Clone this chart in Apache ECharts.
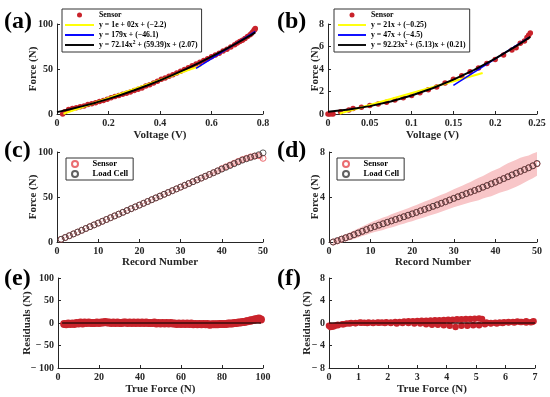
<!DOCTYPE html>
<html><head><meta charset="utf-8">
<script src="https://cdn.jsdelivr.net/npm/echarts@6/dist/echarts.min.js"></script>
<style>html,body{margin:0;padding:0;background:#fff}#c{width:550px;height:397px}</style>
</head><body><div id="c"></div>
<script>
// ---------- (a) ----------
var aVolt = [0.022,0.03,0.045,0.06,0.075,0.09,0.105,0.12,0.135,0.15,0.165,0.18,0.195,0.21,0.225,0.24,0.255,0.27,0.285,0.30,0.315,0.33,0.345,0.36,0.375,0.39,0.405,0.42,0.435,0.45,0.465,0.48,0.495,0.51,0.525,0.54,0.555,0.57,0.585,0.60,0.615,0.63,0.645,0.66,0.675,0.69,0.70,0.71,0.72,0.73,0.74,0.75,0.755,0.76,0.765,0.768,0.77];
var aForce = [0,2.5,5,6,7,8,9,10.5,11.5,12.5,14,15,16.5,18,19.5,20.5,22,23,24.5,26,27.5,29,31,32.5,34.5,36.5,38.5,40,42,43.5,45.5,47.5,49.5,51.5,53.5,55.5,57.5,59.5,61.5,63.5,65.5,67.5,70,72,74.5,77,79,80.5,82,84,86,88,89.5,91,93,94,95];
var aLin1X = [0.025,0.56], aLin1Y = [0.3,53.8];
var aLin2X = [0.54,0.77], aLin2Y = [50.6,91.7];
var aQuadX = [0,0.05,0.1,0.15,0.2,0.25,0.3,0.35,0.4,0.45,0.5,0.55,0.6,0.65,0.7,0.75,0.77];
var aQuadY = [2.07,5.22,8.73,12.6,16.83,21.43,26.4,31.7,37.4,43.41,49.8,56.55,63.7,71.15,78.99,87.19,90.6];
// ---------- (b) ----------
var bVolt = [0,0.002,0.004,0.006,0.015,0.025,0.03,0.04,0.05,0.06,0.07,0.08,0.09,0.1,0.11,0.12,0.13,0.14,0.15,0.16,0.17,0.18,0.19,0.2,0.21,0.22,0.225,0.23,0.235,0.238,0.24,0.242];
var bForce = [0,0,0.02,0,0.2,0.35,0.5,0.6,0.75,0.9,1.05,1.25,1.45,1.65,1.9,2.15,2.4,2.75,3.1,3.4,3.75,4.1,4.5,4.85,5.25,5.7,5.9,6.3,6.5,6.8,7.0,7.2];
var bLin1X = [0.014,0.185], bLin1Y = [0.04,3.64];
var bLin2X = [0.15,0.24], bLin2Y = [2.55,6.78];
var bQuadX = [0,0.025,0.05,0.075,0.1,0.125,0.15,0.175,0.2,0.225,0.242];
var bQuadY = [0.21,0.40,0.70,1.11,1.64,2.29,3.06,3.93,4.93,6.03,6.85];
// ---------- (c) ----------
var cRecord = [1,2,3,4,5,6,7,8,9,10,11,12,13,14,15,16,17,18,19,20,21,22,23,24,25,26,27,28,29,30,31,32,33,34,35,36,37,38,39,40,41,42,43,44,45,46,47,48,49,50];
var cLoad = [3,5,7,9,11,13,15,17,19,21,23,25,27,29,31,33,35,37,39,41,43,45,47,49,51,53,55,57,59,61,63,65,67,69,71,73,75,77,79,81,83,85,87,89,91,92.5,94,95.5,97,99];
var cSensor = [3,5,7,9,11,13,15,17,19,21,23,25,27,29,31,33,35,37,39,41,43,45,47,49,51,53,55,57,59,61,63,65,67,69,71,73,75,77,79,81.5,83.5,85.5,87.5,89.5,91.5,93,94.5,95.5,96,93];
var cSpread = [0.5,0.5,0.5,0.5,0.5,0.5,0.5,0.5,0.5,0.5,0.6,0.6,0.6,0.6,0.6,0.7,0.7,0.7,0.7,0.7,0.8,0.8,0.8,0.9,0.9,0.9,1,1,1,1,1.2,1.2,1.3,1.4,1.5,1.6,1.8,2,2.2,2.5,2.8,3,3.2,3.4,3.5,3.5,3.4,3.2,3,2.5];
// ---------- (d) ----------
var dLoad = [0.0,0.12,0.25,0.38,0.5,0.65,0.8,0.95,1.1,1.25,1.38,1.5,1.62,1.75,1.87,2.0,2.12,2.25,2.38,2.5,2.63,2.77,2.9,3.03,3.17,3.3,3.44,3.58,3.73,3.88,4.02,4.16,4.3,4.44,4.58,4.72,4.87,5.02,5.17,5.32,5.48,5.64,5.8,5.96,6.12,6.28,6.44,6.6,6.78,6.98];
var dSensor = [0.0,0.1,0.25,0.37,0.5,0.64,0.8,0.95,1.1,1.25,1.38,1.5,1.62,1.75,1.88,2.0,2.13,2.25,2.38,2.5,2.63,2.77,2.9,3.03,3.17,3.3,3.44,3.58,3.73,3.88,4.02,4.16,4.3,4.44,4.58,4.72,4.87,5.02,5.17,5.32,5.48,5.64,5.8,5.96,6.12,6.28,6.44,6.6,6.76,6.95];
var dSpread = [0.25,0.27,0.3,0.32,0.35,0.38,0.4,0.42,0.45,0.48,0.5,0.52,0.55,0.55,0.58,0.6,0.6,0.62,0.62,0.65,0.65,0.68,0.7,0.7,0.72,0.75,0.75,0.75,0.78,0.8,0.82,0.85,0.88,0.9,0.95,1.0,1.0,1.05,1.1,1.1,1.1,1.15,1.2,1.2,1.2,1.2,1.15,1.1,1.1,1.05];
// ---------- (e) ----------
var eForce1 = [3,5,7,9,11,13,15,17,19,21,23,25,27,29,31,33,35,37,39,41,43,45,47,49,51,53,55,57,59,61,63,65,67,69,71,73,75,77,79,81,83,85,87,89,91,92.5,94,95.5,97,99];
var eResid1 = [-2,-1,-1,0,1,1,1,0,1,1,2,1,1,1,0,1,1,1,1,1,1,0,1,0,0,0,0,-1,-1,-1,-1,-1,-2,-2,-2,-2,-3,-3,-2,-2,-1,-1,0,1,2,4,5,7,9,8];
var eForce2 = [4,6,8,10,12,14,16,18,20,22,24,26,28,30,32,34,36,38,40,42,44,46,48,50,52,54,56,58,60,62,64,66,68,70,72,74,76,78,80,82,84,86,88,90,92,94,96,98];
var eResid2 = [-3,-2,-2,-1,-1,0,0,0,0,1,1,0,0,0,1,0,0,0,0,0,0,0,-1,-1,-1,-1,-1,-2,-2,-2,-2,-3,-3,-3,-3,-4,-3,-3,-2,-2,-1,0,1,2,4,6,8,10];
var eZeroX = [2,99], eZeroY = [0,0];
// ---------- (f) ----------
var fForce1 = [0.0,0.1,0.2,0.3,0.45,0.6,0.75,0.9,1.05,1.2,1.35,1.5,1.65,1.8,1.95,2.1,2.25,2.4,2.55,2.7,2.85,3.0,3.15,3.3,3.45,3.6,3.75,3.9,4.05,4.2,4.35,4.5,4.65,4.8,4.95,5.1,5.2,5.35,5.5,5.65,5.8,5.95,6.1,6.25,6.4,6.55,6.7,6.85,6.95];
var fResid1 = [-0.5,-0.6,-0.5,-0.3,-0.2,-0.1,0.0,0.0,0.1,0.05,0.1,0.05,0.1,0.1,0.15,0.1,0.2,0.2,0.25,0.3,0.3,0.35,0.4,0.4,0.45,0.5,0.5,0.55,0.6,0.6,0.65,0.65,0.7,0.7,0.75,0.8,0.7,0.1,0.0,0.05,0.1,0.15,0.2,0.2,0.25,0.2,0.1,0.15,0.3];
var fForce2 = [6.9,6.7,6.5,6.3,6.1,5.9,5.7,5.5,5.3,5.1,4.9,4.7,4.5,4.3,4.1,3.9,3.7,3.5,3.3,3.1,2.9,2.7,2.5,2.3,2.1,1.9,1.7,1.5,1.3,1.1,0.9,0.7,0.5,0.3,0.15,0.05];
var fResid2 = [0.2,0.3,0.2,0.1,0.1,0.0,-0.1,-0.1,-0.2,-0.4,-0.4,-0.5,-0.5,-0.7,-0.5,-0.4,-0.3,-0.3,-0.2,-0.1,-0.1,0.0,0.0,-0.1,0.0,0.0,0.05,0.0,0.0,0.05,-0.05,-0.1,-0.2,-0.4,-0.6,-0.7];
var fZeroX = [0,7], fZeroY = [0,0];
// ---------- text ----------
var panelLabels = ['(a)','(b)','(c)','(d)','(e)','(f)'];
var legendNames = {
  a_sensor:'Sensor', a_lin1:'y = 1e + 02x + (\u22122.2)', a_lin2:'y = 179x + (\u221246.1)',
  a_quad:'{t|y = 72.14x}{s|2}{t| + (59.39)x + (2.07)}',
  b_sensor:'Sensor', b_lin1:'y = 21x + (\u22120.25)', b_lin2:'y = 47x + (\u22124.5)',
  b_quad:'{t|y = 92.23x}{s|2}{t| + (5.13)x + (0.21)}',
  c_sensor:'Sensor', c_load:'Load Cell', d_sensor:'Sensor', d_load:'Load Cell'
};

function zip(xs, ys){ return xs.map(function(x,i){ return [x, ys[i]]; }); }
var FF = '"Liberation Serif","Times New Roman",serif';
var AX = '#262626';
var RED = '#C9232B';
function minusFmt(v){ return v < 0 ? '\u2212 ' + Math.abs(v) : String(v); }
function ax(grid, min, max, interval, name, gap, extra){
  return Object.assign({
    type:'value', gridIndex:grid, min:min, max:max, interval:interval,
    name:name, nameLocation:'middle', nameGap:gap, nameMoveOverlap:false,
    nameTextStyle:{color:AX,fontFamily:FF,fontWeight:'bold',fontSize:11},
    axisLine:{show:true,onZero:false,lineStyle:{color:AX,width:1}},
    axisTick:{show:true,inside:true,length:3,lineStyle:{color:AX}},
    axisLabel:{color:AX,fontFamily:FF,fontWeight:'bold',fontSize:10,margin:4,showMinLabel:true,showMaxLabel:true},
    splitLine:{show:false}
  }, extra||{});
}
var grids = [
  {left:57,top:24,width:206,height:90},
  {left:328,top:24,width:209,height:90},
  {left:57,top:152,width:206,height:90},
  {left:329,top:152,width:208,height:90},
  {left:58,top:278,width:205,height:90},
  {left:329,top:278,width:206,height:90}
];
grids.forEach(function(g){ g.containLabel=false; g.outerBoundsMode='none'; });

var resLabel = {color:AX,fontFamily:FF,fontWeight:'bold',fontSize:10,margin:4,showMinLabel:true,showMaxLabel:true,formatter:minusFmt};
var xAxes = [
  ax(0,0,0.8,0.2,'Voltage (V)',16),
  ax(1,0,0.25,0.05,'Voltage (V)',16),
  ax(2,0,50,10,'Record Number',15),
  ax(3,0,50,10,'Record Number',15),
  ax(4,0,100,20,'True Force (N)',16),
  ax(5,0,7,1,'True Force (N)',16)
];
var yAxes = [
  ax(0,0,100,50,'Force (N)',18),
  ax(1,0,8,2,'Force (N)',7.5),
  ax(2,0,100,50,'Force (N)',18),
  ax(3,0,8,4,'Force (N)',8.5),
  ax(4,-100,100,50,'Residuals (N)',25,{axisLabel:resLabel}),
  ax(5,-8,8,4,'Residuals (N)',16.5,{axisLabel:resLabel})
];

function lineS(name, gi, xs, ys, color, w){
  return {type:'line', name:name, xAxisIndex:gi, yAxisIndex:gi, data:zip(xs,ys), symbol:'none', smooth:false,
    lineStyle:{color:color,width:w}, itemStyle:{color:color}, z:3};
}
function dotS(name, gi, xs, ys, size){
  return {type:'scatter', name:name, xAxisIndex:gi, yAxisIndex:gi, data:zip(xs,ys), symbol:'circle', symbolSize:size,
    itemStyle:{color:RED, opacity:1}, z:2};
}
function ringS(name, gi, xs, ys, color){
  return {type:'scatter', name:name, xAxisIndex:gi, yAxisIndex:gi, data:zip(xs,ys), symbol:'circle', symbolSize:6,
    itemStyle:{color:'rgba(255,255,255,0)', borderColor:color, borderWidth:1}, z:3};
}
function bandS(gi, xs, mid, spread){
  return {type:'custom', xAxisIndex:gi, yAxisIndex:gi, data:[[xs[0], mid[0]]], silent:true, z:1,
    renderItem:function(params, api){
      var pts = [];
      for (var i=0;i<xs.length;i++) pts.push(api.coord([xs[i], mid[i]+spread[i]]));
      for (var j=xs.length-1;j>=0;j--) pts.push(api.coord([xs[j], mid[j]-spread[j]]));
      return {type:'polygon', shape:{points:pts}, style:{fill:'#F8C6C8'}};
    }};
}

var series = [
  dotS('a_sensor',0,aVolt,aForce,5.5),
  lineS('a_lin1',0,aLin1X,aLin1Y,'#FFFF00',2),
  lineS('a_lin2',0,aLin2X,aLin2Y,'#0000FF',1.5),
  lineS('a_quad',0,aQuadX,aQuadY,'#000000',2),
  dotS('b_sensor',1,bVolt,bForce,5.5),
  lineS('b_lin1',1,bLin1X,bLin1Y,'#FFFF00',2),
  lineS('b_lin2',1,bLin2X,bLin2Y,'#0000FF',1.5),
  lineS('b_quad',1,bQuadX,bQuadY,'#000000',2),
  bandS(2,cRecord,cSensor,cSpread),
  ringS('c_sensor',2,cRecord,cSensor,'#E5484E'),
  ringS('c_load',2,cRecord,cLoad,'#3a3a3a'),
  bandS(3,cRecord,dSensor,dSpread),
  ringS('d_sensor',3,cRecord,dSensor,'#E5484E'),
  ringS('d_load',3,cRecord,dLoad,'#3a3a3a'),
  dotS('e_p1',4,eForce1,eResid1,8),
  dotS('e_p2',4,eForce2,eResid2,8),
  lineS('e_zero',4,eZeroX,eZeroY,'#3a0d0d',1.5),
  dotS('f_p1',5,fForce1,fResid1,6.5),
  dotS('f_p2',5,fForce2,fResid2,6.5),
  lineS('f_zero',5,fZeroX,fZeroY,'#3a0d0d',1.5)
];

function legTS(fs){
  return {color:'#000',fontFamily:FF,fontWeight:'bold',fontSize:fs,lineHeight:10,
    rich:{t:{color:'#000',fontFamily:FF,fontWeight:'bold',fontSize:fs,lineHeight:10},
          s:{color:'#000',fontFamily:FF,fontWeight:'bold',fontSize:5.5,lineHeight:5,verticalAlign:'top'}}};
}
var LINEICON = 'path://M0,0H30V2H0Z';
function legItems(names){
  return names.map(function(n){ return /sensor|load/.test(n) ? {name:n} : {name:n, icon:LINEICON}; });
}
function leg(data, left, top, iw, ih, pad, fs){
  return {show:true, orient:'vertical', left:left, top:top, data:legItems(data), itemWidth:iw, itemHeight:ih, itemGap:0,
    padding:pad, borderColor:'#333', borderWidth:1, backgroundColor:'#fff', selectedMode:false,
    textStyle:legTS(fs), formatter:function(n){ return legendNames[n]; }};
}
var legends = [
  leg(['a_sensor','a_lin1','a_lin2','a_quad'],62,9,29,5,[1,4,2,3],7.8),
  leg(['b_sensor','b_lin1','b_lin2','b_quad'],334,9,28,5,[1,4,2,4],7.8),
  leg(['c_sensor','c_load'],66,158,25,6,[1,5,1,5],8.5),
  leg(['d_sensor','d_load'],337,158,25,6,[1,5,1,5],8.5)
];

var labelPos = [[4,22],[277,22],[4,151],[277,151],[4,279],[277,279]];
var graphics = panelLabels.map(function(t,i){
  return {type:'text', left:labelPos[i][0], top:labelPos[i][1]-12,
    style:{text:t, fill:'#000', font:'bold 24px '+FF}};
});

var chart = echarts.init(document.getElementById('c'), null, {renderer:'canvas'});
chart.setOption({
  animation:false, backgroundColor:'#fff',
  grid:grids, xAxis:xAxes, yAxis:yAxes, series:series, legend:legends, graphic:graphics
});
</script></body></html>
